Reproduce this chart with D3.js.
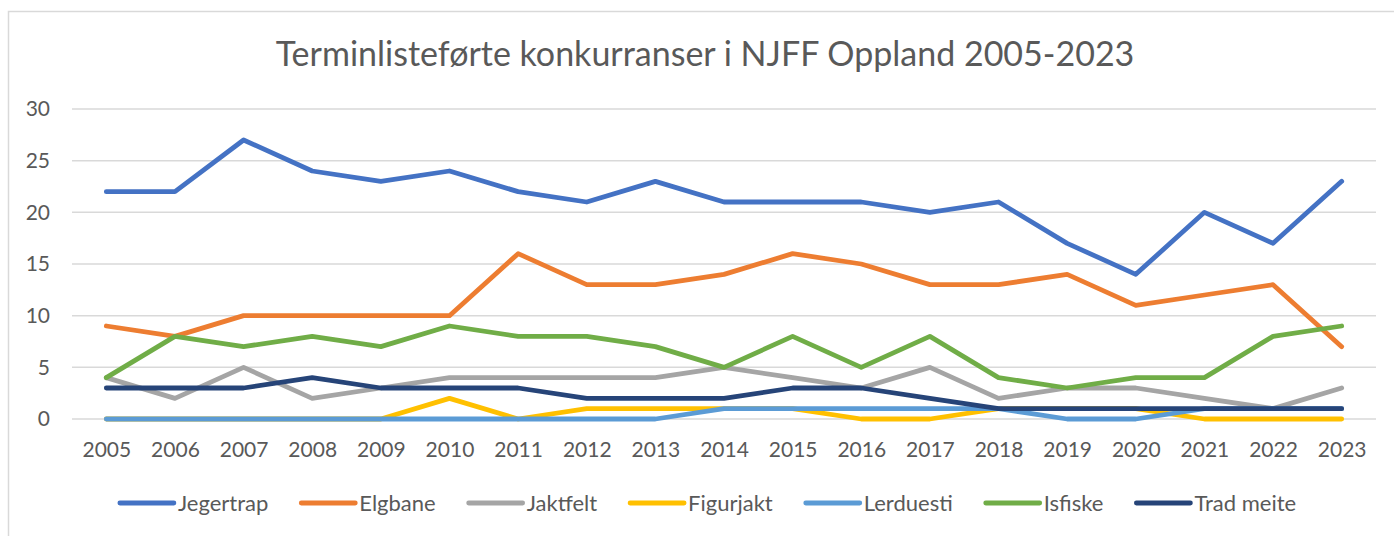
<!DOCTYPE html>
<html>
<head>
<meta charset="utf-8">
<script src="https://cdn.jsdelivr.net/npm/d3@7"></script>
<style>
  html, body { margin: 0; padding: 0; background: #fff; }
  svg { display: block; }
  text { font-family: Lato, "Open Sans", "Liberation Sans", sans-serif; fill: #595959; }
</style>
</head>
<body>
<svg id="chart" width="1394" height="536"></svg>
<script>
const years = [2005,2006,2007,2008,2009,2010,2011,2012,2013,2014,2015,2016,2017,2018,2019,2020,2021,2022,2023];
const seriesNames = ["Jegertrap","Elgbane","Jaktfelt","Figurjakt","Lerduesti","Isfiske","Trad meite"];
const jegertrap = [22,22,27,24,23,24,22,21,23,21,21,21,20,21,17,14,20,17,23];
const elgbane   = [9,8,10,10,10,10,16,13,13,14,16,15,13,13,14,11,12,13,7];
const jaktfelt  = [4,2,5,2,3,4,4,4,4,5,4,3,5,2,3,3,2,1,3];
const figurjakt = [0,0,0,0,0,2,0,1,1,1,1,0,0,1,1,1,0,0,0];
const lerduesti = [0,0,0,0,0,0,0,0,0,1,1,1,1,1,0,0,1,1,1];
const isfiske   = [4,8,7,8,7,9,8,8,7,5,8,5,8,4,3,4,4,8,9];
const tradMeite = [3,3,3,4,3,3,3,2,2,2,3,3,2,1,1,1,1,1,1];
const yTicks = [0,5,10,15,20,25,30];
const colors = ["#4472C4","#ED7D31","#A5A5A5","#FFC000","#5B9BD5","#70AD47","#264478"];
const title = "Terminlisteførte konkurranser i NJFF Oppland 2005-2023";

const seriesValues = [jegertrap, elgbane, jaktfelt, figurjakt, lerduesti, isfiske, tradMeite];
const series = seriesNames.map((name, i) => ({
  name, color: colors[i],
  values: years.map((y, j) => ({ year: y, value: seriesValues[i][j] }))
}));

const svg = d3.select("#chart");
const W = 1394, H = 536;
const plot = { left: 72, right: 1376, top: 109, bottom: 419 };

// outer chart border
svg.append("rect")
  .attr("x", 8.5).attr("y", 11.5)
  .attr("width", W + 20).attr("height", H + 20)
  .attr("fill", "none").attr("stroke", "#d9d9d9").attr("stroke-width", 1.5);

// title
svg.append("text")
  .attr("x", 705).attr("y", 66)
  .attr("text-anchor", "middle")
  .attr("font-size", 34)
  .text(title);

const x = d3.scalePoint().domain(years).range([plot.left, plot.right]).padding(0.5);
const y = d3.scaleLinear().domain([0, 30]).range([plot.bottom, plot.top]);

// gridlines
svg.append("g").selectAll("line").data(yTicks).join("line")
  .attr("x1", plot.left).attr("x2", plot.right)
  .attr("y1", d => y(d)).attr("y2", d => y(d))
  .attr("stroke", "#d9d9d9").attr("stroke-width", 1.5);

// y axis labels
const yAxis = svg.append("g").attr("transform", `translate(${plot.left - 22},0)`)
  .call(d3.axisLeft(y).tickValues(yTicks).tickSize(0).tickPadding(0));
yAxis.select(".domain").remove();
yAxis.selectAll("text").attr("font-size", 21).attr("fill", "#595959")
  .style("font-family", "Lato, 'Open Sans', sans-serif");

// x axis labels
const xAxis = svg.append("g").attr("transform", `translate(0,${plot.bottom + 23})`)
  .call(d3.axisBottom(x).tickSize(0).tickPadding(0).tickFormat(d3.format("d")));
xAxis.select(".domain").remove();
xAxis.selectAll("text").attr("font-size", 21).attr("fill", "#595959")
  .style("font-family", "Lato, 'Open Sans', sans-serif");

// lines
const line = d3.line().x(d => x(d.year)).y(d => y(d.value));
svg.append("g").selectAll("path").data(series).join("path")
  .attr("d", d => line(d.values))
  .attr("fill", "none")
  .attr("stroke", d => d.color)
  .attr("stroke-width", 4.8)
  .attr("stroke-linejoin", "round")
  .attr("stroke-linecap", "round");

// legend
const legend = svg.append("g");
const swatchW = 54, swatchGap = 4, itemGap = 33, legendY = 503, legendCenter = 708;
const items = legend.selectAll("g").data(series).join("g");
items.append("line")
  .attr("x1", 0).attr("x2", swatchW).attr("y1", 0).attr("y2", 0)
  .attr("stroke", d => d.color).attr("stroke-width", 4.8).attr("stroke-linecap", "round");
items.append("text")
  .attr("x", swatchW + swatchGap).attr("y", 0).attr("dy", "0.35em")
  .attr("font-size", 22)
  .text(d => d.name);
let cx = 0;
const offsets = [];
items.each(function() {
  const tw = d3.select(this).select("text").node().getComputedTextLength();
  offsets.push(cx);
  cx += swatchW + swatchGap + tw + itemGap;
});
const total = cx - itemGap;
const startX = legendCenter - total / 2;
items.attr("transform", (d, i) => `translate(${startX + offsets[i]},${legendY})`);
</script>
</body>
</html>
